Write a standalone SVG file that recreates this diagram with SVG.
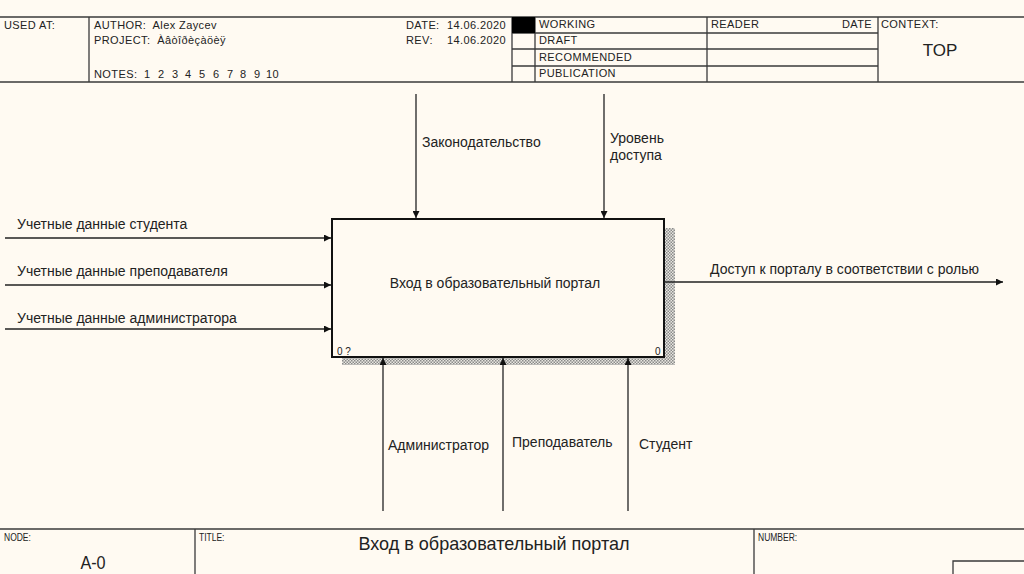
<svg xmlns="http://www.w3.org/2000/svg" width="1024" height="574" viewBox="0 0 1024 574">
<defs>
<style>
.ln{stroke:#3a3a3a;stroke-width:1.3;fill:none}
.hd{font-family:"Liberation Sans",Arial,sans-serif;font-size:11px;letter-spacing:0.4px;fill:#222;white-space:pre}
.sm{font-family:"Liberation Sans",Arial,sans-serif;font-size:10px;fill:#222;white-space:pre}
.lb{font-family:"Liberation Sans",Arial,sans-serif;font-size:14px;fill:#222}
.ft{font-family:"Liberation Sans",Arial,sans-serif;fill:#222}
.ar{stroke:#222;stroke-width:1.3;fill:none}
</style>
<pattern id="hatch" width="3" height="3" patternUnits="userSpaceOnUse">
<rect width="3" height="3" fill="#e8e6e0"/>
<rect width="1.5" height="1.5" fill="#8a8a8a"/>
<rect x="1.5" y="1.5" width="1.5" height="1.5" fill="#8a8a8a"/>
</pattern>
<marker id="ah" viewBox="0 0 10 10" refX="10" refY="5" markerWidth="9" markerHeight="7" markerUnits="userSpaceOnUse" orient="auto">
<path d="M0,0 L10,5 L0,10 Z" fill="#111"/>
</marker>
</defs>
<rect width="1024" height="574" fill="#fffaf2"/>

<g id="header">
<line class="ln" x1="0" y1="17" x2="1024" y2="17"/>
<line class="ln" x1="0" y1="82" x2="1024" y2="82"/>
<line class="ln" x1="89" y1="17" x2="89" y2="82"/>
<line class="ln" x1="512" y1="17" x2="512" y2="82"/>
<line class="ln" x1="535" y1="17" x2="535" y2="82"/>
<line class="ln" x1="707" y1="17" x2="707" y2="82"/>
<line class="ln" x1="878" y1="17" x2="878" y2="82"/>
<line class="ln" x1="512" y1="33" x2="878" y2="33"/>
<line class="ln" x1="512" y1="49" x2="878" y2="49"/>
<line class="ln" x1="512" y1="66" x2="878" y2="66"/>
<rect x="512" y="17" width="23" height="16" fill="#000"/>
<text class="hd" x="4" y="29">USED AT:</text>
<text class="hd" x="94" y="29">AUTHOR:  Alex Zaycev</text>
<text class="hd" x="94" y="44">PROJECT:  Àâòîðèçàöèÿ</text>
<text class="hd" x="94" y="78">NOTES:</text>
<text class="hd" y="78" x="144 158 172 185 199 213 227 240 254 266">123456789</text>
<text class="hd" x="266" y="78">10</text>
<text class="hd" x="406" y="29">DATE:</text>
<text class="hd" x="447" y="29">14.06.2020</text>
<text class="hd" x="406" y="44">REV:</text>
<text class="hd" x="447" y="44">14.06.2020</text>
<text class="hd" x="539" y="28">WORKING</text>
<text class="hd" x="539" y="44">DRAFT</text>
<text class="hd" x="539" y="61">RECOMMENDED</text>
<text class="hd" x="539" y="77">PUBLICATION</text>
<text class="hd" x="711" y="28">READER</text>
<text class="hd" x="872" y="28" text-anchor="end">DATE</text>
<text class="hd" x="881" y="28">CONTEXT:</text>
<text class="ft" x="940" y="56" font-size="17" text-anchor="middle">TOP</text>
</g>

<g id="node-A0">
<rect x="342" y="228" width="333" height="137" fill="url(#hatch)"/>
<rect x="332" y="219" width="332" height="138" fill="#fffaf2" stroke="#111" stroke-width="2"/>
<text class="lb" x="495" y="288" text-anchor="middle">Вход в образовательный портал</text>
<text class="sm" x="337" y="355">0 ?</text>
<text class="sm" x="655" y="355">0</text>
</g>

<g id="connectors">
<line class="ar" x1="416" y1="94" x2="416" y2="218" marker-end="url(#ah)"/>
<line class="ar" x1="604" y1="94" x2="604" y2="218" marker-end="url(#ah)"/>
<line class="ar" x1="5" y1="238" x2="331" y2="238" marker-end="url(#ah)"/>
<line class="ar" x1="5" y1="285" x2="331" y2="285" marker-end="url(#ah)"/>
<line class="ar" x1="5" y1="329" x2="331" y2="329" marker-end="url(#ah)"/>
<line class="ar" x1="664" y1="282" x2="1003" y2="282" marker-end="url(#ah)"/>
<line class="ar" x1="383" y1="511" x2="383" y2="358" marker-end="url(#ah)"/>
<line class="ar" x1="503" y1="511" x2="503" y2="358" marker-end="url(#ah)"/>
<line class="ar" x1="628" y1="511" x2="628" y2="358" marker-end="url(#ah)"/>
<text class="lb" x="422" y="147">Законодательство</text>
<text class="lb" x="610" y="143">Уровень</text>
<text class="lb" x="610" y="160">доступа</text>
<text class="lb" x="17" y="229">Учетные данные студента</text>
<text class="lb" x="17" y="276">Учетные данные преподавателя</text>
<text class="lb" x="17" y="323">Учетные данные администратора</text>
<text class="lb" x="710" y="274">Доступ к порталу в соответствии с ролью</text>
<text class="lb" x="388" y="450">Администратор</text>
<text class="lb" x="512" y="447">Преподаватель</text>
<text class="lb" x="639" y="449">Студент</text>
</g>

<g id="footer">
<line class="ln" x1="0" y1="529" x2="1024" y2="529"/>
<line class="ln" x1="195" y1="529" x2="195" y2="574"/>
<line class="ln" x1="754" y1="529" x2="754" y2="574"/>
<polyline class="ln" points="953,574 953,561 1024,561"/>
<text class="ft" font-size="10" transform="translate(4 541) scale(0.85 1)">NODE:</text>
<text class="ft" font-size="18" text-anchor="middle" transform="translate(93 569) scale(0.9 1)">A-0</text>
<text class="ft" font-size="10" transform="translate(199 541) scale(0.85 1)">TITLE:</text>
<text class="ft" font-size="19" text-anchor="middle" transform="translate(494 550) scale(0.95 1)">Вход в образовательный портал</text>
<text class="ft" font-size="10" transform="translate(758 541) scale(0.85 1)">NUMBER:</text>
</g>
</svg>
